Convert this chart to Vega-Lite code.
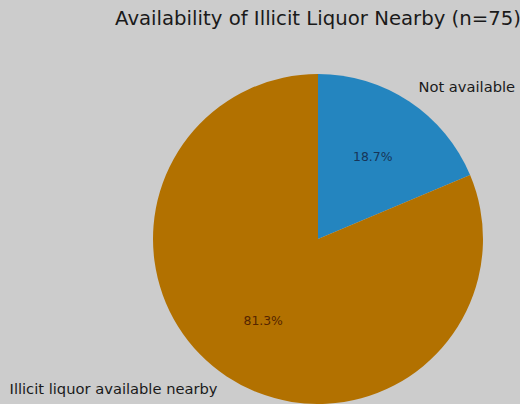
{
  "$schema": "https://vega.github.io/schema/vega-lite/v6.json",
  "autosize": "none",
  "width": 404,
  "height": 330,
  "padding": {"left": 116, "top": 74, "right": 0, "bottom": 0},
  "background": "#cccccc",
  "title": {
    "text": "Availability of Illicit Liquor Nearby (n=75)",
    "anchor": "middle",
    "font": "DejaVu Sans",
    "fontSize": 19.7,
    "fontWeight": "normal",
    "color": "#1a1a1a",
    "offset": 45
  },
  "config": {"view": {"stroke": null}},
  "data": {
    "values": [
      {"label": "Not available", "count": 14, "pct": "18.7%", "ord": 1},
      {"label": "Illicit liquor available nearby", "count": 61, "pct": "81.3%", "ord": 2}
    ]
  },
  "resolve": {"scale": {"color": "independent"}},
  "encoding": {
    "theta": {"field": "count", "type": "quantitative", "stack": true},
    "order": {"field": "ord", "type": "quantitative"}
  },
  "layer": [
    {
      "mark": {"type": "arc", "outerRadius": 165},
      "encoding": {
        "color": {
          "field": "label",
          "type": "nominal",
          "scale": {"domain": ["Not available", "Illicit liquor available nearby"], "range": ["#2485bf", "#b27100"]},
          "legend": null
        }
      }
    },
    {
      "mark": {"type": "text", "radius": 99, "font": "DejaVu Sans", "fontSize": 12.4, "baseline": "middle", "align": "center"},
      "encoding": {
        "text": {"field": "pct"},
        "color": {
          "field": "label",
          "type": "nominal",
          "scale": {"domain": ["Not available", "Illicit liquor available nearby"], "range": ["#173558", "#542500"]},
          "legend": null
        }
      }
    },
    {
      "mark": {"type": "text", "radius": 181.5, "font": "DejaVu Sans", "fontSize": 14.7, "baseline": "middle", "align": "left", "color": "#1a1a1a"},
      "encoding": {
        "text": {"field": "label"},
        "opacity": {"condition": {"test": "datum.label == 'Not available'", "value": 1}, "value": 0}
      }
    },
    {
      "mark": {"type": "text", "radius": 181.5, "font": "DejaVu Sans", "fontSize": 14.7, "baseline": "middle", "align": "right", "color": "#1a1a1a"},
      "encoding": {
        "text": {"field": "label"},
        "opacity": {"condition": {"test": "datum.label != 'Not available'", "value": 1}, "value": 0}
      }
    }
  ]
}
